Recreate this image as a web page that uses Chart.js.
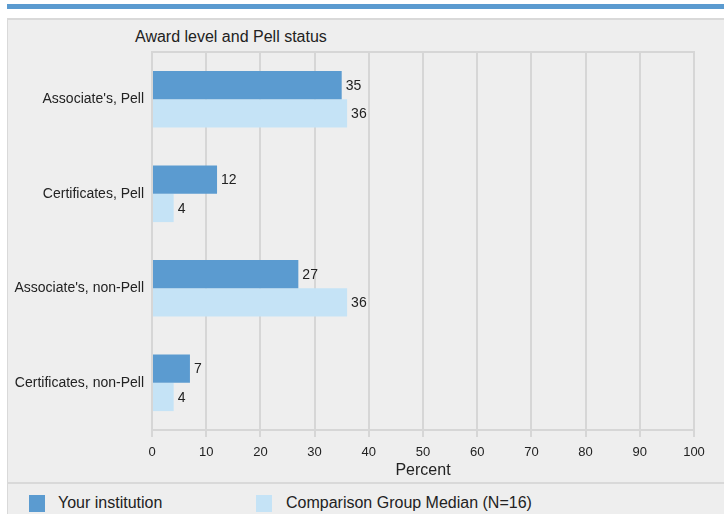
<!DOCTYPE html>
<html>
<head>
<meta charset="utf-8">
<script src="https://cdn.jsdelivr.net/npm/chart.js@4.4.1/dist/chart.umd.min.js"></script>
<style>
  body { margin: 0; background: #fff; font-family: "Liberation Sans", Arial, sans-serif; }
  #wrap { position: relative; width: 724px; height: 514px; overflow: hidden; }
  #topbar { position: absolute; left: 7px; right: 0; top: 4px; height: 5px; background: #5b9bd0; }
  #panel { position: absolute; left: 7px; top: 18px; width: 730px; height: 520px; background: #eeeeee; border: 1px solid #d9d9d9; border-width: 2px 0 0 1px; }
  #title { position: absolute; left: 135px; top: 28px; font-size: 16px; color: #222; }
  #sep { position: absolute; left: 8px; right: 0; top: 482px; height: 2px; background: #d9d9d9; }
  .leg { position: absolute; top: 494px; font-size: 16px; color: #222; }
  .sw { position: absolute; top: 495px; width: 16px; height: 17px; }
  canvas { position: absolute; left: 0; top: 0; }
</style>
</head>
<body>
<div id="wrap">
  <div id="topbar"></div>
  <div id="panel"></div>
  <div id="title">Award level and Pell status</div>
  <div id="sep"></div>
  <div class="sw" style="left:29px;background:#5b9bd0"></div>
  <div class="leg" style="left:58px">Your institution</div>
  <div class="sw" style="left:256px;background:#c5e3f6"></div>
  <div class="leg" style="left:286px">Comparison Group Median (N=16)</div>
  <canvas id="chart" width="724" height="514"></canvas>
</div>
<script>
// values
const categories = ["Associate's, Pell", "Certificates, Pell", "Associate's, non-Pell", "Certificates, non-Pell"]
const yourInstitution = [35, 12, 27, 7]
const comparisonMedian = [36, 4, 36, 4]
const seriesLabels = ["Your institution", "Comparison Group Median (N=16)"]

const gridColor = "#d6d6d6"
const textColor = "#222"
const fontFamily = "'Liberation Sans', Arial, sans-serif"

// value label right of each bar end, plus the top frame line
const barValues = {
  id: "barValues",
  afterDatasetsDraw(chart) {
    const ctx = chart.ctx
    ctx.save()
    ctx.font = "14px " + fontFamily
    ctx.fillStyle = textColor
    ctx.textAlign = "left"
    ctx.textBaseline = "middle"
    chart.data.datasets.forEach((ds, i) => {
      chart.getDatasetMeta(i).data.forEach((bar, j) => {
        ctx.fillText(ds.data[j], bar.x + 4, bar.y + 1)
      })
    })
    ctx.restore()
  },
  beforeDatasetsDraw(chart) {
    const { ctx, chartArea } = chart
    ctx.save()
    ctx.strokeStyle = gridColor
    ctx.lineWidth = 2
    ctx.beginPath()
    ctx.moveTo(chartArea.left - 1, chartArea.top)
    ctx.lineTo(chartArea.right + 1, chartArea.top)
    ctx.stroke()
    ctx.restore()
  }
}

new Chart(document.getElementById("chart"), {
  type: "bar",
  data: {
    labels: categories,
    datasets: [
      { label: seriesLabels[0], data: yourInstitution, backgroundColor: "#5b9bd0", categoryPercentage: 0.6, barPercentage: 1.0 },
      { label: seriesLabels[1], data: comparisonMedian, backgroundColor: "#c5e3f6", categoryPercentage: 0.6, barPercentage: 1.0 }
    ]
  },
  plugins: [barValues],
  options: {
    indexAxis: "y",
    responsive: false,
    animation: false,
    layout: { padding: { left: 0, top: 52, right: 30, bottom: 34 } },
    plugins: { legend: { display: false }, tooltip: { enabled: false } },
    scales: {
      x: {
        min: 0,
        max: 100,
        ticks: { stepSize: 10, padding: 8, color: textColor, font: { size: 13, family: fontFamily } },
        grid: { color: gridColor, lineWidth: 2, tickLength: 7 },
        border: { color: gridColor, width: 2 },
        title: { display: true, text: "Percent", color: textColor, padding: 0, font: { size: 16, family: fontFamily } },
        afterFit: (s) => { s.height = 50 }
      },
      y: {
        ticks: { padding: 0, color: textColor, font: { size: 14, family: fontFamily } },
        grid: { display: false },
        border: { display: false },
        afterFit: (s) => { s.width = 152 }
      }
    }
  }
})
</script>
</body>
</html>
